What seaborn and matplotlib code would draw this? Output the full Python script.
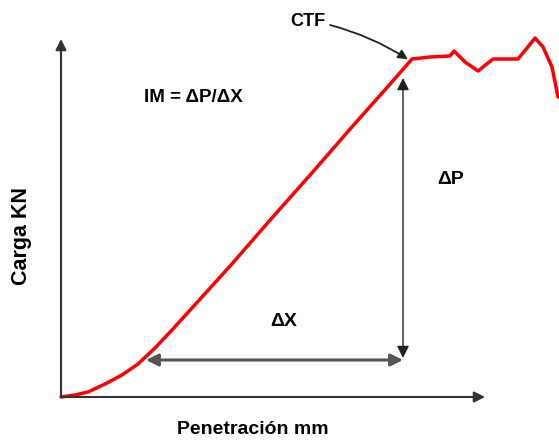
import matplotlib
matplotlib.use("Agg")
import matplotlib.pyplot as plt
import numpy as np
import pandas as pd
import seaborn as sns

# curve (x: penetration, y: load, arbitrary units)
pen = [0, 14, 27, 44, 61, 77, 94, 111, 131, 170, 210, 250, 290, 330, 351,
       369, 389, 393, 404, 417, 432, 457, 466, 474, 482, 491, 497]
load = [0, 2, 5, 13, 22, 33, 49, 67, 89, 132, 178, 223, 269, 314, 338,
        340, 341, 346, 335, 326, 338, 338, 349, 359, 350, 330, 300]

# annotation anchors (same units)
ctf_x, ctf_y = 349, 337
dx_start, dx_end, dx_y = 85, 342, 37
dp_x, dp_top = 342, 319

df = pd.DataFrame({"pen": pen, "load": load})

sns.set_style("white")
plt.rcParams["font.family"] = ["Liberation Sans", "DejaVu Sans"]
plt.rcParams["text.color"] = "black"

fig = plt.figure(figsize=(5.59, 4.41), dpi=100)
ax = fig.add_axes([0, 0, 1, 1])
ax.set_xlim(-61, 498)
ax.set_ylim(-44, 397)
ax.axis("off")

sns.lineplot(data=df, x="pen", y="load", sort=False, color="red", lw=2.5, ax=ax)

# axes drawn as arrows
ax.annotate("", xy=(424, 0), xytext=(0, 0),
            arrowprops=dict(arrowstyle="-|>", color="#333333", lw=1.5, mutation_scale=16,
                            shrinkA=0, shrinkB=0))
ax.annotate("", xy=(0, 358), xytext=(0, 0),
            arrowprops=dict(arrowstyle="-|>", color="#333333", lw=1.5, mutation_scale=16,
                            shrinkA=0, shrinkB=0))

# delta X
ax.annotate("", xy=(dx_start, dx_y), xytext=(dx_end, dx_y),
            arrowprops=dict(arrowstyle="<|-|>", color="#555555", lw=2.2, mutation_scale=18,
                            shrinkA=0, shrinkB=0))
# delta P
ax.annotate("", xy=(dp_x, dp_top), xytext=(dp_x, dx_y + 2),
            arrowprops=dict(arrowstyle="<|-|>", color="#222222", lw=1, mutation_scale=18,
                            shrinkA=0, shrinkB=0))

# CTF arrow
ax.text(247, 376, "CTF", fontsize=13, fontweight="bold", ha="center", va="center")
ax.annotate("", xy=(ctf_x - 1, ctf_y), xytext=(269, 372),
            arrowprops=dict(arrowstyle="-|>", color="#222222", lw=1.3, mutation_scale=14,
                            connectionstyle="arc3,rad=-0.08", shrinkA=0, shrinkB=1))

ax.text(132, 300, "IM = ΔP/ΔX", fontsize=13.5, fontweight="bold", ha="center", va="center")
ax.text(390, 217, "ΔP", fontsize=14, fontweight="bold", ha="center", va="center")
ax.text(223, 76, "ΔX", fontsize=14, fontweight="bold", ha="center", va="center")

ax.text(192, -32, "Penetración mm", fontsize=14, fontweight="bold", ha="center", va="center")
ax.text(-40, 161, "Carga KN", fontsize=15.5, fontweight="bold", ha="center", va="center",
        rotation=90)

fig.savefig("out.png", dpi=100)
